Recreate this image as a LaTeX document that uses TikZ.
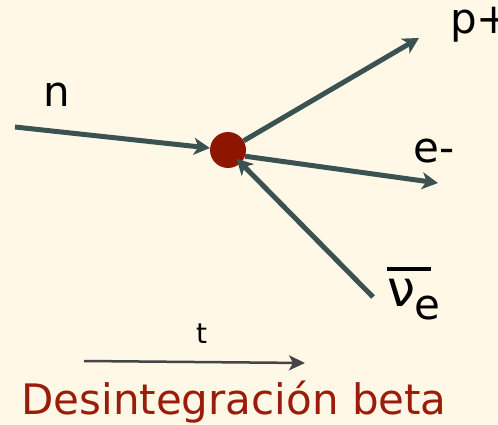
\documentclass[tikz,border=0pt]{standalone}
\usepackage{fontspec}
\setmainfont{DejaVu Sans}
\usetikzlibrary{arrows.meta}
\definecolor{paper}{HTML}{FFF8E7}
\definecolor{slateline}{HTML}{3B5252}
\definecolor{dotred}{HTML}{8E1600}
\definecolor{titlered}{HTML}{9A1C0B}
\definecolor{timegray}{HTML}{454545}

\begin{document}
\begin{tikzpicture}[
    x=1pt, y=-1pt,
    % Particle tracks
    track/.style={
        draw=slateline, line width=5pt,
        -{Stealth[length=16pt, width=17pt, inset=4.5pt]}
    },
    % Decay vertex
    vertex/.style={
        circle, fill=dotred,
        minimum size=36pt, inner sep=0pt
    },
    % Particle names
    partname/.style={
        inner sep=0pt, anchor=base west,
        font=\fontsize{42}{48}\selectfont
    },
    % Time axis
    timearrow/.style={
        draw=timegray, line width=2.5pt,
        -{Stealth[length=16pt, width=15pt, inset=4pt]}
    }
]

% Background
\fill[paper] (0,0) rectangle (498,425);
\useasboundingbox (0,0) rectangle (498,425);

% Decay vertex
\node[vertex] (vtx) at (228,150) {};

% Track end points
\coordinate (nstart) at (15,127);
\coordinate (pend) at (419,38);
\coordinate (eend) at (438,183);
\coordinate (nubstart) at (373,297);

% Tracks
\draw[track] (nstart) -- (vtx);
\draw[track] (vtx) -- (pend);
\draw[track] (vtx.-20) -- (eend);
\draw[track, shorten >=-6pt] (nubstart) -- (vtx);

% Particle names
\node[partname] (nlab) at (43,107) {n};
\node[partname] (plab) at (450,34) {p+};
\node[partname] (elab) at (413,162) {e-};
\node[partname] (nublab) at (387,306) {\rlap{\raisebox{35pt}{\rule{44pt}{4pt}}}{\fontsize{50}{56}\selectfont ν}\kern-1pt\raisebox{-13pt}{e}};

% Time axis
\coordinate (tstart) at (84,361);
\coordinate (tend) at (305,363);
\draw[timearrow] (tstart) -- (tend);
\node[partname, font=\fontsize{28}{32}\selectfont] (tlab) at (196,343) {t};

% Caption
\node[inner sep=0pt, anchor=base, text=titlered, font=\fontsize{42}{48}\selectfont] (caption) at (234,414) {Desintegración beta};

\end{tikzpicture}
\end{document}
